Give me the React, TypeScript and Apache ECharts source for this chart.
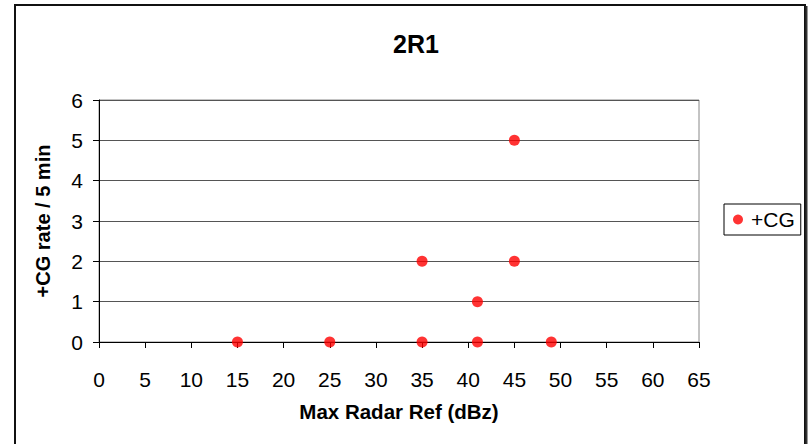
import React, { useEffect, useRef } from "react";
import * as echarts from "echarts";

const seriesName = "+CG";
const reflectivity = [15, 25, 35, 41, 49, 35, 45, 41, 45];
const cgRate = [0, 0, 0, 0, 0, 2, 2, 1, 5];
const titleText = "2R1";
const xAxisName = "Max Radar Ref (dBz)";
const yAxisName = "+CG rate / 5 min";

const FONT = "'Liberation Sans', Arial, sans-serif";

export default function App() {
  const ref = useRef<HTMLDivElement>(null);
  useEffect(() => {
    document.body.style.margin = "0";
    const chart = echarts.init(ref.current!, null, { renderer: "svg" });
    chart.setOption({
      animation: false,
      backgroundColor: "#ffffff",
      textStyle: { fontFamily: FONT },
      title: {
        text: titleText,
        left: 411,
        textAlign: "center",
        top: 26,
        textStyle: { fontSize: 25, fontWeight: "bold", color: "#000", fontFamily: FONT },
      },
      legend: {
        left: 724,
        top: 204,
        orient: "vertical",
        borderColor: "#000",
        borderWidth: 1,
        padding: [5, 6, 5, 9],
        icon: "circle",
        itemWidth: 10,
        itemHeight: 10,
        itemGap: 6,
        textStyle: { fontSize: 21, color: "#000", fontFamily: FONT, padding: [0, 0, 0, 3] },
        data: [seriesName],
      },
      grid: {
        left: 99,
        top: 100,
        right: 113,
        bottom: 102,
        show: true,
        borderColor: "#888",
        borderWidth: 1,
      },
      xAxis: {
        type: "value",
        min: 0,
        max: 65,
        interval: 5,
        name: xAxisName,
        nameLocation: "middle",
        nameGap: 59,
        nameTextStyle: { fontSize: 20.5, fontWeight: "bold", color: "#000", fontFamily: FONT },
        axisLine: { show: true, onZero: false, lineStyle: { color: "#000", width: 1 } },
        axisTick: { show: true, inside: false, length: 6, lineStyle: { color: "#000" } },
        axisLabel: { fontSize: 21, color: "#000", margin: 27, fontFamily: FONT },
        splitLine: { show: false },
      },
      yAxis: {
        type: "value",
        min: 0,
        max: 6,
        interval: 1,
        name: yAxisName,
        nameLocation: "middle",
        nameGap: 46,
        nameRotate: 90,
        nameTextStyle: { fontSize: 20, fontWeight: "bold", color: "#000", fontFamily: FONT },
        axisLine: { show: true, lineStyle: { color: "#000", width: 1 } },
        axisTick: { show: true, inside: false, length: 6, lineStyle: { color: "#000" } },
        axisLabel: { fontSize: 21, color: "#000", margin: 16, fontFamily: FONT },
        splitLine: { show: true, lineStyle: { color: "#555", width: 1 } },
      },
      graphic: [
        {
          type: "rect",
          shape: { x: 15, y: 5, width: 790, height: 460 },
          style: { fill: "none", stroke: "#111", lineWidth: 2 },
          silent: true,
        },
        {
          type: "line",
          shape: { x1: 806.5, y1: 6, x2: 806.5, y2: 444 },
          style: { stroke: "#333", lineWidth: 2 },
          silent: true,
        },
      ],
      series: [
        {
          name: seriesName,
          type: "scatter",
          symbol: "circle",
          symbolSize: 11,
          itemStyle: { color: "#ff0000" },
          data: reflectivity.map((x, i) => [x, cgRate[i]]),
        },
      ],
    });
    return () => chart.dispose();
  }, []);
  return (
    <div
      ref={ref}
      style={{ position: "absolute", left: 0, top: 0, width: 812, height: 444 }}
    />
  );
}
